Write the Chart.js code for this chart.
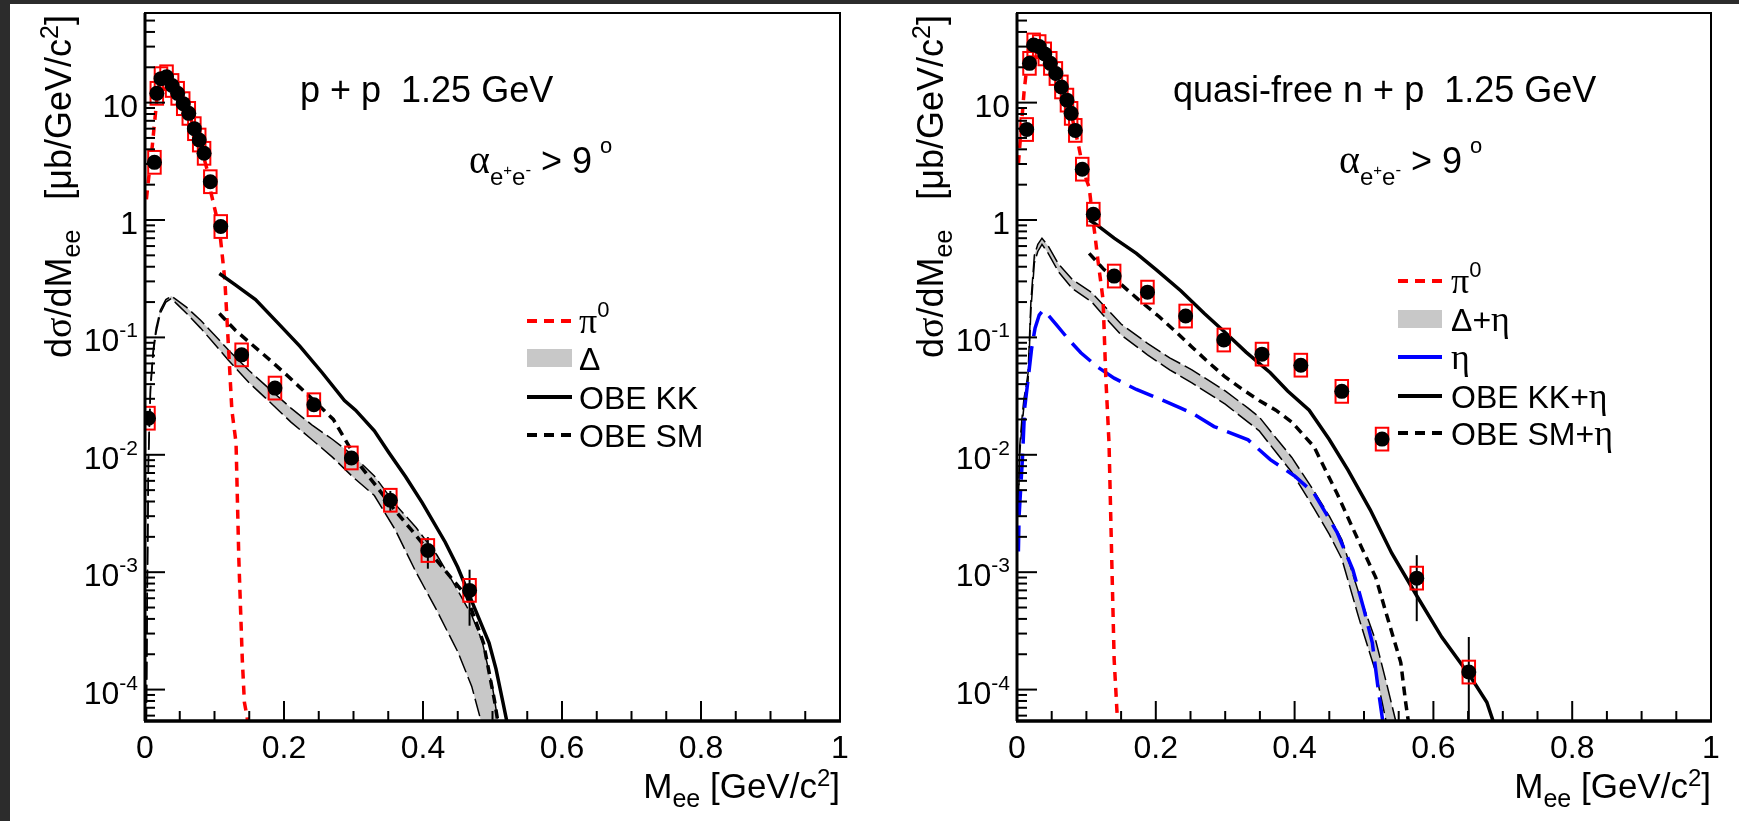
<!DOCTYPE html>
<html><head><meta charset="utf-8">
<script src="https://cdn.jsdelivr.net/npm/chart.js@4.4.1/dist/chart.umd.min.js"></script>
<style>
html,body{margin:0;padding:0;}
body{width:1739px;height:821px;background:#2c2c2c;position:relative;overflow:hidden;}
#sheet{position:absolute;left:10px;top:4px;right:0;bottom:0;background:#fff;}
canvas{position:absolute;top:0;}
</style></head>
<body><div id="sheet"></div>
<canvas id="left" style="left:0px;width:870px;height:821px" width="870" height="821"></canvas>
<canvas id="right" style="left:870px;width:869px;height:821px" width="869" height="821"></canvas>
<script>
// ---------------- axis / tick data ----------------
const xRange = [0, 1];
const yRange = [5.4e-5, 58];
const xTickValues = [0, 0.2, 0.4, 0.6, 0.8, 1];
const xTickLabels = ['0', '0.2', '0.4', '0.6', '0.8', '1'];
const yTickExps = [-4, -3, -2, -1, 0, 1];

// ---------------- left panel: p + p ----------------
const ppX = [0.005, 0.0136, 0.017, 0.023, 0.031, 0.039, 0.047, 0.055, 0.063, 0.071, 0.078, 0.085, 0.094, 0.109, 0.139, 0.187, 0.243, 0.297, 0.353, 0.407, 0.467];
const ppY = [0.0205, 3.1, 12, 16, 16.6, 14, 12, 9.8, 8.1, 6.0, 4.8, 3.7, 2.12, 0.88, 0.071, 0.037, 0.0267, 0.0094, 0.0041, 0.00153, 0.00070];
const ppStat = [0.12, 0.03, 0.03, 0.03, 0.03, 0.03, 0.03, 0.03, 0.03, 0.03, 0.03, 0.03, 0.03, 0.04, 0.06, 0.07, 0.08, 0.12, 0.2, 0.3, 0.5];
const ppSys = [0.25, 0.25, 0.25, 0.25, 0.25, 0.25, 0.25, 0.25, 0.25, 0.25, 0.25, 0.25, 0.25, 0.25, 0.25, 0.25, 0.25, 0.25, 0.25, 0.25, 0.25];

const ppPi0X = [0.002, 0.006, 0.01, 0.014, 0.018, 0.022, 0.027, 0.032, 0.037, 0.042, 0.05, 0.06, 0.07, 0.08, 0.09, 0.095, 0.103, 0.108, 0.112, 0.115, 0.119, 0.125, 0.131, 0.135, 0.14, 0.143, 0.147, 0.15];
const ppPi0Y = [1.5, 2.5, 4, 7, 12, 16, 17.5, 17, 15.5, 14, 11.5, 8.8, 6.3, 4.3, 2.6, 1.7, 1.07, 0.75, 0.45, 0.3, 0.11, 0.024, 0.0126, 1.3e-3, 1.8e-4, 7.8e-5, 5.8e-5, 3e-5];

const ppDeltaX  = [0.0015, 0.003, 0.005, 0.008, 0.012, 0.016, 0.022, 0.03, 0.038, 0.045, 0.06, 0.08, 0.1, 0.12, 0.15, 0.18, 0.21, 0.24, 0.27, 0.3, 0.33, 0.36, 0.39, 0.42, 0.45, 0.47, 0.485, 0.5, 0.51, 0.52];
const ppDeltaHi = [2e-5, 5e-4, 0.01, 0.04, 0.08, 0.12, 0.17, 0.21, 0.225, 0.21, 0.18, 0.14, 0.105, 0.078, 0.052, 0.036, 0.025, 0.018, 0.0135, 0.0098, 0.0066, 0.0038, 0.0024, 0.0014, 7e-4, 4.3e-4, 2.6e-4, 1.05e-4, 4.5e-5, 2e-5];
const ppDeltaLo = [2e-5, 4e-4, 0.009, 0.036, 0.075, 0.11, 0.16, 0.2, 0.215, 0.195, 0.16, 0.12, 0.088, 0.064, 0.041, 0.028, 0.019, 0.0135, 0.0095, 0.0064, 0.0045, 0.0023, 1.0e-3, 4.7e-4, 2.1e-4, 1.07e-4, 5e-5, 2.5e-5, 1.5e-5, 1e-5];

const ppKKX = [0.107, 0.13, 0.159, 0.19, 0.223, 0.255, 0.287, 0.303, 0.33, 0.351, 0.375, 0.399, 0.432, 0.45, 0.471, 0.495, 0.505, 0.515, 0.525];
const ppKKY = [0.35, 0.28, 0.21, 0.135, 0.084, 0.05, 0.029, 0.024, 0.016, 0.0104, 0.0065, 0.0039, 0.0018, 0.0011, 5.5e-4, 2.5e-4, 1.5e-4, 7.8e-5, 4e-5];

const ppSMX = [0.107, 0.13, 0.151, 0.18, 0.207, 0.243, 0.271, 0.311, 0.335, 0.359, 0.383, 0.407, 0.435, 0.463, 0.487, 0.503, 0.511];
const ppSMY = [0.16, 0.115, 0.09, 0.064, 0.046, 0.029, 0.02, 0.0079, 0.0052, 0.0034, 0.0023, 0.00155, 9.8e-4, 6.2e-4, 2.5e-4, 8e-5, 4e-5];

// ---------------- right panel: quasi-free n + p ----------------
const npX = [0.014, 0.018, 0.024, 0.032, 0.040, 0.048, 0.056, 0.064, 0.072, 0.078, 0.084, 0.094, 0.110, 0.140, 0.188, 0.243, 0.298, 0.353, 0.409, 0.468, 0.526, 0.576, 0.651];
const npY = [5.9, 21.6, 31, 30, 26, 21.6, 17.7, 13.6, 10.5, 8.1, 5.8, 2.71, 1.12, 0.333, 0.243, 0.152, 0.095, 0.072, 0.058, 0.0347, 0.0136, 8.9e-4, 1.41e-4];
const npStat = [0.03, 0.03, 0.03, 0.03, 0.03, 0.03, 0.03, 0.03, 0.03, 0.03, 0.03, 0.03, 0.04, 0.05, 0.06, 0.07, 0.08, 0.08, 0.09, 0.1, 0.12, 0.57, 0.99];
const npSys = [0.25, 0.25, 0.25, 0.25, 0.25, 0.25, 0.25, 0.25, 0.25, 0.25, 0.25, 0.25, 0.25, 0.25, 0.25, 0.25, 0.25, 0.25, 0.25, 0.25, 0.25, 0.25, 0.25];

const npPi0X = [0.002, 0.006, 0.01, 0.014, 0.018, 0.022, 0.026, 0.03, 0.036, 0.042, 0.05, 0.06, 0.07, 0.08, 0.088, 0.094, 0.1, 0.104, 0.109, 0.112, 0.1165, 0.124, 0.128, 0.1326, 0.1365, 0.14, 0.144, 0.148];
const npPi0Y = [3, 6, 12, 20, 27, 31, 33, 32.5, 30, 26, 21, 15.5, 11, 7.2, 4.5, 3, 2.2, 1.9, 1.05, 0.77, 0.46, 0.21, 0.045, 0.0126, 1.3e-3, 1.8e-4, 6.6e-5, 3e-5];

const npBandX  = [0.002, 0.004, 0.007, 0.01, 0.013, 0.016, 0.02, 0.025, 0.03, 0.036, 0.045, 0.06, 0.08, 0.108, 0.124, 0.15, 0.188, 0.22, 0.252, 0.3, 0.333, 0.349, 0.375, 0.396, 0.428, 0.45, 0.468, 0.493, 0.517, 0.533, 0.549, 0.56];
const npBandHi = [0.004, 0.012, 0.02, 0.03, 0.038, 0.05, 0.2, 0.5, 0.62, 0.7, 0.6, 0.42, 0.31, 0.24, 0.19, 0.13, 0.089, 0.067, 0.053, 0.035, 0.025, 0.021, 0.0135, 0.0095, 0.0049, 0.003, 0.0019, 6.5e-4, 2.6e-4, 1.1e-4, 4.5e-5, 2e-5];
const npBandLo = [0.0035, 0.0105, 0.017, 0.026, 0.033, 0.043, 0.17, 0.43, 0.54, 0.62, 0.52, 0.36, 0.26, 0.2, 0.155, 0.105, 0.071, 0.053, 0.041, 0.027, 0.019, 0.016, 0.0102, 0.0071, 0.0035, 0.0021, 0.0013, 4e-4, 1.4e-4, 5e-5, 2e-5, 1e-5];

const npEtaX = [0.002, 0.003, 0.008, 0.011, 0.016, 0.021, 0.026, 0.032, 0.0375, 0.045, 0.056, 0.075, 0.092, 0.116, 0.14, 0.172, 0.205, 0.236, 0.252, 0.284, 0.333, 0.365, 0.4, 0.428, 0.461, 0.484, 0.5, 0.512, 0.52, 0.527, 0.53];
const npEtaY = [0.0015, 0.003, 0.0097, 0.025, 0.044, 0.08, 0.12, 0.155, 0.17, 0.155, 0.13, 0.095, 0.074, 0.056, 0.045, 0.036, 0.03, 0.025, 0.0227, 0.0174, 0.0134, 0.0091, 0.0066, 0.0047, 0.0022, 0.00105, 4.8e-4, 2.5e-4, 1.06e-4, 5.4e-5, 3e-5];

const npKKX = [0.104, 0.116, 0.14, 0.172, 0.2, 0.236, 0.27, 0.3, 0.33, 0.365, 0.39, 0.421, 0.45, 0.477, 0.509, 0.54, 0.576, 0.612, 0.653, 0.677, 0.686, 0.69];
const npKKY = [1.0, 0.9, 0.7, 0.52, 0.38, 0.25, 0.16, 0.11, 0.075, 0.05, 0.035, 0.024, 0.0135, 0.0074, 0.0034, 0.00145, 6.3e-4, 2.8e-4, 1.3e-4, 7.8e-5, 5.4e-5, 4e-5];

const npSMX = [0.104, 0.125, 0.148, 0.175, 0.205, 0.23, 0.252, 0.275, 0.3, 0.325, 0.349, 0.373, 0.396, 0.428, 0.461, 0.493, 0.517, 0.536, 0.553, 0.56, 0.57];
const npSMY = [0.52, 0.38, 0.29, 0.21, 0.15, 0.11, 0.083, 0.062, 0.046, 0.036, 0.029, 0.024, 0.019, 0.0117, 0.0047, 0.0018, 9e-4, 3.7e-4, 1.7e-4, 7.8e-5, 3e-5];

// ---------------- styling helpers ----------------
const SANS = '"Liberation Sans", Arial, Helvetica, sans-serif';
const SERIF = '"Liberation Serif", "DejaVu Serif", serif';
const RED = '#ff0000', BLUE = '#0000ff', GRAY = '#c8c8c8';
const BOX_HALF_W = 0.009;

function pts(xs, ys) { return xs.map((x, i) => ({x: x, y: ys[i]})); }

function richWidth(ctx, parts) {
  let w = 0;
  for (const p of parts) { ctx.font = p.s + 'px ' + (p.f || SANS); w += ctx.measureText(p.t).width + (p.gap || 0); }
  return w;
}
function drawRich(ctx, parts, x, y, align) {
  const w = richWidth(ctx, parts);
  let cx = align === 'right' ? x - w : (align === 'center' ? x - w / 2 : x);
  ctx.textAlign = 'left'; ctx.textBaseline = 'alphabetic'; ctx.fillStyle = '#000';
  for (const p of parts) {
    ctx.font = p.s + 'px ' + (p.f || SANS);
    ctx.fillText(p.t, cx, y + (p.dy || 0));
    cx += ctx.measureText(p.t).width + (p.gap || 0);
  }
}

function drawDataDecor(chart, panel) {
  const ctx = chart.ctx, a = chart.chartArea, xs = chart.scales.x, ys = chart.scales.y;
  ctx.save();
  ctx.beginPath(); ctx.rect(a.left, a.top, a.right - a.left, a.bottom - a.top); ctx.clip();
  ctx.strokeStyle = '#000'; ctx.lineWidth = 2;
  panel.px.forEach((x, i) => {
    const y = panel.py[i], e = panel.stat[i];
    const px = xs.getPixelForValue(x);
    const hi = ys.getPixelForValue(y * (1 + e));
    const lo = ys.getPixelForValue(Math.max(y * (1 - e), 1e-9));
    ctx.beginPath(); ctx.moveTo(px, hi); ctx.lineTo(px, Math.min(lo, a.bottom + 5)); ctx.stroke();
  });
  ctx.strokeStyle = RED; ctx.lineWidth = 2;
  panel.px.forEach((x, i) => {
    const y = panel.py[i], s = panel.sys[i];
    const x0 = xs.getPixelForValue(x - BOX_HALF_W), x1 = xs.getPixelForValue(x + BOX_HALF_W);
    const y0 = ys.getPixelForValue(y * (1 + s)), y1 = ys.getPixelForValue(y / (1 + s));
    ctx.strokeRect(x0, y0, x1 - x0, y1 - y0);
  });
  ctx.restore();
}

function drawFrame(chart, panel) {
  const ctx = chart.ctx, a = chart.chartArea, xs = chart.scales.x, ys = chart.scales.y;
  ctx.save();
  ctx.strokeStyle = '#000';
  ctx.lineWidth = 2;
  // x ticks (inward)
  for (let k = 0; k <= 20; k++) {
    const v = k * 0.05, p = xs.getPixelForValue(v);
    const L = (k % 4 === 0) ? 20 : 10;
    ctx.beginPath(); ctx.moveTo(p, a.bottom); ctx.lineTo(p, a.bottom - L); ctx.stroke();
  }
  // y ticks (inward)
  for (let e = -5; e <= 2; e++) for (let m = 1; m <= 9; m++) {
    const v = m * Math.pow(10, e);
    if (v < ys.min || v > ys.max) continue;
    const p = ys.getPixelForValue(v);
    const L = m === 1 ? 20 : 10;
    ctx.beginPath(); ctx.moveTo(a.left, p); ctx.lineTo(a.left + L, p); ctx.stroke();
  }
  // frame
  ctx.lineWidth = 2;
  ctx.strokeRect(a.left, a.top, a.right - a.left, a.bottom - a.top);
  ctx.lineWidth = 3.5;
  ctx.beginPath(); ctx.moveTo(a.left - 1, a.bottom); ctx.lineTo(a.right + 1, a.bottom); ctx.stroke();
  ctx.lineWidth = 3;
  ctx.beginPath(); ctx.moveTo(a.left, a.top); ctx.lineTo(a.left, a.bottom); ctx.stroke();

  // x tick labels
  ctx.fillStyle = '#000';
  xTickValues.forEach((v, i) => {
    drawRich(ctx, [{t: xTickLabels[i], s: 32}], xs.getPixelForValue(v), a.bottom + 37, 'center');
  });
  // y tick labels
  yTickExps.forEach(e => {
    const p = ys.getPixelForValue(Math.pow(10, e));
    let parts;
    if (e === 0) parts = [{t: '1', s: 32}];
    else if (e === 1) parts = [{t: '10', s: 32}];
    else parts = [{t: '10', s: 32}, {t: '-' + (-e), s: 21, dy: -14}];
    drawRich(ctx, parts, a.left - 7, p + 14, 'right');
  });
  // x title
  drawRich(ctx, [{t: 'M', s: 35}, {t: 'ee', s: 25, dy: 9}, {t: ' [GeV/c', s: 35}, {t: '2', s: 24, dy: -12}, {t: ']', s: 35}],
           a.right, a.bottom + 77, 'right');
  // y title (rotated)
  ctx.save();
  ctx.translate(a.left - 74, a.top + 2);
  ctx.rotate(-Math.PI / 2);
  drawRich(ctx, [{t: 'd', s: 36}, {t: 'σ', s: 38, f: SERIF}, {t: '/dM', s: 36}, {t: 'ee', s: 25, dy: 9},
                 {t: '   [', s: 36}, {t: 'μ', s: 36}, {t: 'b/GeV/c', s: 36}, {t: '2', s: 25, dy: -13}, {t: ']', s: 36}],
           0, 0, 'right');
  ctx.restore();

  // headline texts
  const o = panel.offset;
  drawRich(ctx, [{t: panel.title, s: 36}], panel.titleX - o, 102, 'left');
  drawRich(ctx, [{t: 'α', s: 40, f: SERIF}, {t: 'e', s: 24, dy: 12}, {t: '+', s: 15, dy: 2}, {t: 'e', s: 24, dy: 12}, {t: '-', s: 17, dy: 2},
                 {t: ' > 9', s: 36, gap: 8}, {t: 'o', s: 22, dy: -20}],
           panel.alphaX - o, 173, 'left');

  // legend
  const L = panel.legend;
  L.rows.forEach((r, i) => {
    const y = L.ys[i];
    const x0 = L.x0 - o, x1 = L.x1 - o;
    ctx.save();
    if (r.kind === 'box') {
      ctx.fillStyle = GRAY; ctx.fillRect(x0, y - 9, x1 - x0, 18);
    } else {
      ctx.strokeStyle = r.color; ctx.lineWidth = 4; ctx.setLineDash(r.dash || []);
      ctx.beginPath(); ctx.moveTo(x0, y); ctx.lineTo(x1, y); ctx.stroke();
    }
    ctx.restore();
    drawRich(ctx, r.parts, L.tx - o, y + 12, 'left');
  });
  ctx.restore();
}

function lineDS(xs, ys, color, width, dash, extra) {
  return Object.assign({data: pts(xs, ys), borderColor: color, borderWidth: width, borderDash: dash || [],
    pointRadius: 0, fill: false, tension: 0, showLine: true}, extra || {});
}

function makeChart(id, panel, curves) {
  const datasets = [{
    data: pts(panel.px, panel.py), showLine: false, pointRadius: 7.5, pointHoverRadius: 7.5,
    pointBackgroundColor: '#000', pointBorderColor: '#000', pointBorderWidth: 0
  }].concat(curves);
  return new Chart(document.getElementById(id), {
    type: 'line',
    data: {datasets: datasets},
    options: {
      responsive: false, devicePixelRatio: 1, animation: false, events: [],
      layout: {padding: panel.pad},
      plugins: {legend: {display: false}, tooltip: {enabled: false}},
      scales: {
        x: {type: 'linear', min: xRange[0], max: xRange[1], display: false},
        y: {type: 'logarithmic', min: yRange[0], max: yRange[1], display: false}
      }
    },
    plugins: [{
      id: 'deco',
      beforeDatasetDraw(chart, args) { if (args.index === 0) drawDataDecor(chart, panel); },
      afterDraw(chart) { drawFrame(chart, panel); }
    }]
  });
}

const pi0Parts = [{t: 'π', s: 36, f: SERIF}, {t: '0', s: 22, dy: -16}];

const leftPanel = {
  offset: 0, pad: {left: 145, right: 30, top: 13, bottom: 100},
  px: ppX, py: ppY, stat: ppStat, sys: ppSys,
  title: 'p + p  1.25 GeV', titleX: 300, alphaX: 469,
  legend: {x0: 527, x1: 572, tx: 579, ys: [321, 358, 397, 435], rows: [
    {kind: 'line', color: RED, dash: [10, 7], parts: pi0Parts},
    {kind: 'box', parts: [{t: 'Δ', s: 32}]},
    {kind: 'line', color: '#000', parts: [{t: 'OBE KK', s: 32}]},
    {kind: 'line', color: '#000', dash: [10, 7], parts: [{t: 'OBE SM', s: 32}]}
  ]}
};
const rightPanel = {
  offset: 870, pad: {left: 147, right: 28, top: 13, bottom: 100},
  px: npX, py: npY, stat: npStat, sys: npSys,
  title: 'quasi-free n + p  1.25 GeV', titleX: 1173, alphaX: 1339,
  legend: {x0: 1398, x1: 1442, tx: 1451, ys: [281, 319, 357, 396, 433], rows: [
    {kind: 'line', color: RED, dash: [10, 7], parts: pi0Parts},
    {kind: 'box', parts: [{t: 'Δ+', s: 32}, {t: 'η', s: 36, f: SERIF}]},
    {kind: 'line', color: BLUE, parts: [{t: 'η', s: 36, f: SERIF}]},
    {kind: 'line', color: '#000', parts: [{t: 'OBE KK+', s: 32}, {t: 'η', s: 36, f: SERIF}]},
    {kind: 'line', color: '#000', dash: [10, 7], parts: [{t: 'OBE SM+', s: 32}, {t: 'η', s: 36, f: SERIF}]}
  ]}
};

// dataset order: points(0), KK(1), SM(2), pi0(3), [eta], bandLo, bandHi(fill -> bandLo)
makeChart('left', leftPanel, [
  lineDS(ppKKX, ppKKY, '#000', 3.5),
  lineDS(ppSMX, ppSMY, '#000', 3.5, [9, 6]),
  lineDS(ppPi0X, ppPi0Y, RED, 3.5, [9, 7]),
  lineDS(ppDeltaX, ppDeltaLo, '#000', 1.5, [18, 5]),
  lineDS(ppDeltaX, ppDeltaHi, '#000', 1.5, [18, 5], {fill: {target: 4}, backgroundColor: GRAY})
]);
makeChart('right', rightPanel, [
  lineDS(npKKX, npKKY, '#000', 3.5),
  lineDS(npSMX, npSMY, '#000', 3.5, [9, 6]),
  lineDS(npPi0X, npPi0Y, RED, 3.5, [9, 7]),
  lineDS(npEtaX, npEtaY, BLUE, 3.5, [26, 10]),
  lineDS(npBandX, npBandLo, '#000', 1.5, [18, 5]),
  lineDS(npBandX, npBandHi, '#000', 1.5, [18, 5], {fill: {target: 5}, backgroundColor: GRAY})
]);
</script></body></html>
